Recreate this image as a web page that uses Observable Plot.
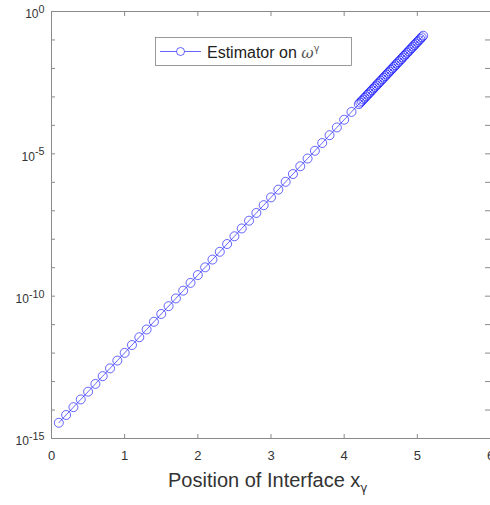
<!DOCTYPE html>
<html>
<head>
<meta charset="utf-8">
<script src="https://cdn.jsdelivr.net/npm/d3@7"></script>
<script src="https://cdn.jsdelivr.net/npm/@observablehq/plot@0.6"></script>
<style>
  html, body { margin: 0; padding: 0; background: white; overflow: hidden; }
  #chart svg { display: block; overflow: hidden; }
</style>
</head>
<body>
<div id="chart"></div>
<script>
// Data
const xValues = [
  0.1, 0.2, 0.3, 0.4, 0.5, 0.6, 0.7, 0.8, 0.9, 1.0,
  1.1, 1.2, 1.3, 1.4, 1.5, 1.6, 1.7, 1.8, 1.9, 2.0,
  2.1, 2.2, 2.3, 2.4, 2.5, 2.6, 2.7, 2.8, 2.9, 3.0,
  3.1, 3.2, 3.3, 3.4, 3.5, 3.6, 3.7, 3.8, 3.9, 4.0,
  4.1, 4.2,
  4.22, 4.24, 4.26, 4.28, 4.30, 4.32, 4.34, 4.36, 4.38, 4.40,
  4.42, 4.44, 4.46, 4.48, 4.50, 4.52, 4.54, 4.56, 4.58, 4.60,
  4.62, 4.64, 4.66, 4.68, 4.70, 4.72, 4.74, 4.76, 4.78, 4.80,
  4.82, 4.84, 4.86, 4.88, 4.90, 4.92, 4.94, 4.96, 4.98, 5.00,
  5.02, 5.04, 5.06, 5.08
];
const estimatorValues = [
  3.57e-15, 6.70e-15, 1.26e-14, 2.36e-14, 4.42e-14, 8.28e-14, 1.55e-13, 2.91e-13, 5.46e-13, 1.02e-12,
  1.92e-12, 3.60e-12, 6.75e-12, 1.26e-11, 2.37e-11, 4.45e-11, 8.34e-11, 1.56e-10, 2.93e-10, 5.50e-10,
  1.03e-9, 1.93e-9, 3.62e-9, 6.79e-9, 1.27e-8, 2.39e-8, 4.48e-8, 8.39e-8, 1.57e-7, 2.95e-7,
  5.53e-7, 1.04e-6, 1.95e-6, 3.65e-6, 6.84e-6, 1.28e-5, 2.40e-5, 4.51e-5, 8.45e-5, 1.58e-4,
  2.97e-4, 5.57e-4,
  6.32e-4, 7.16e-4, 8.13e-4, 9.20e-4, 1.04e-3, 1.19e-3, 1.34e-3, 1.52e-3, 1.73e-3, 1.96e-3,
  2.22e-3, 2.52e-3, 2.86e-3, 3.24e-3, 3.67e-3, 4.17e-3, 4.72e-3, 5.36e-3, 6.07e-3, 6.89e-3,
  7.82e-3, 8.85e-3, 1.00e-2, 1.14e-2, 1.29e-2, 1.47e-2, 1.66e-2, 1.88e-2, 2.13e-2, 2.42e-2,
  2.75e-2, 3.11e-2, 3.53e-2, 4.00e-2, 4.54e-2, 5.15e-2, 5.83e-2, 6.62e-2, 7.50e-2, 8.51e-2,
  9.66e-2, 1.09e-1, 1.24e-1, 1.41e-1
];
const xTicks = [0, 1, 2, 3, 4, 5, 6];
const yMinorTicks = [1e-15, 1e-14, 1e-13, 1e-12, 1e-11, 1e-10, 1e-9, 1e-8, 1e-7, 1e-6, 1e-5, 1e-4, 1e-3, 1e-2, 1e-1, 1e0];
const yLabelTicks = [1e-15, 1e-10, 1e-5, 1e0];
const xLabel = "Position of Interface x";
const xLabelSub = "γ";
const legendText = "Estimator on ";
const legendSymbol = "ω";
const legendSup = "γ";

const data = xValues.map((x, i) => ({x, y: estimatorValues[i]}));
const axisColor = "#8a8a8a";
const lineColor = "#0000ff";
const textColor = "#333";

const plot = Plot.plot({
  width: 490,
  height: 505,
  marginLeft: 51,
  marginRight: 0,
  marginTop: 11,
  marginBottom: 67,
  style: {fontFamily: "'Liberation Sans', Arial, sans-serif", background: "white", color: textColor},
  x: {domain: [0, 6]},
  y: {type: "log", domain: [1e-15, 1]},
  marks: [
    Plot.ruleX([0], {stroke: axisColor}),
    Plot.ruleY([1e-15], {stroke: axisColor}),
    Plot.ruleY([1], {stroke: axisColor}),
    Plot.axisX(xTicks, {anchor: "bottom", tickSize: -4, stroke: axisColor, tickFormat: () => "", label: null}),
    Plot.axisX(xTicks, {anchor: "bottom", tickSize: 0, tickPadding: 12, fontSize: 13, fill: textColor, label: null}),
    Plot.axisX(xTicks, {anchor: "top", tickSize: -4, stroke: axisColor, tickFormat: () => "", label: null}),
    Plot.axisY(yMinorTicks, {anchor: "left", tickSize: -4, stroke: axisColor, tickFormat: () => "", label: null}),
    Plot.tickY(yMinorTicks, {y: d => d, insetLeft: 434, stroke: axisColor}),
    Plot.axisY(yLabelTicks, {anchor: "left", tickSize: 0, tickPadding: 7, fontSize: 12, fill: textColor, dy: 3,
      tickFormat: d => "10^" + Math.round(Math.log10(d)), label: null}),
    Plot.line(data, {x: "x", y: "y", stroke: lineColor, strokeWidth: 0.6}),
    Plot.dot(data, {x: "x", y: "y", r: 4.5, stroke: lineColor, strokeWidth: 0.6, fill: "none"})
  ]
});

document.getElementById("chart").appendChild(plot);

const svg = d3.select(plot);
// superscripts for y tick labels
svg.selectAll('g[aria-label="y-axis tick label"] text').each(function() {
  const t = d3.select(this);
  const s = t.text();
  if (s.includes("^")) {
    const [base, exp] = s.split("^");
    t.text(base);
    t.append("tspan").attr("dy", "-0.5em").attr("font-size", "0.9em").text(exp);
  }
});

// x-axis label with subscript
const xl = svg.append("text")
  .attr("x", 168)
  .attr("y", 487)
  .attr("text-anchor", "start")
  .attr("font-size", 20)
  .attr("fill", textColor)
  .text(xLabel);
xl.append("tspan").attr("dy", "0.45em").attr("font-size", "0.6em")
  .attr("font-family", "'DejaVu Sans', sans-serif").text(xLabelSub);

// legend box
const lg = svg.append("g").attr("text-anchor", "start");
lg.append("rect").attr("x", 155.5).attr("y", 37.5).attr("width", 196).attr("height", 28)
  .attr("fill", "white").attr("stroke", "#808080").attr("stroke-width", 0.8);
lg.append("line").attr("x1", 160).attr("x2", 201).attr("y1", 51.5).attr("y2", 51.5)
  .attr("stroke", lineColor).attr("stroke-width", 0.6);
lg.append("circle").attr("cx", 180.5).attr("cy", 51.5).attr("r", 4).attr("fill", "white")
  .attr("stroke", lineColor).attr("stroke-width", 0.6);
const lt = lg.append("text").attr("x", 207).attr("y", 57.5).attr("font-size", 16).attr("fill", "#222")
  .text(legendText);
lt.append("tspan").attr("font-style", "italic").attr("font-family", "'DejaVu Serif', 'Liberation Serif', serif")
  .attr("font-size", "0.95em").attr("fill", "#555").text(legendSymbol);
lt.append("tspan").attr("dy", "-0.55em").attr("font-size", "0.6em")
  .attr("font-family", "'DejaVu Sans', sans-serif").attr("fill", "#555").text(legendSup);
</script>
</body>
</html>
